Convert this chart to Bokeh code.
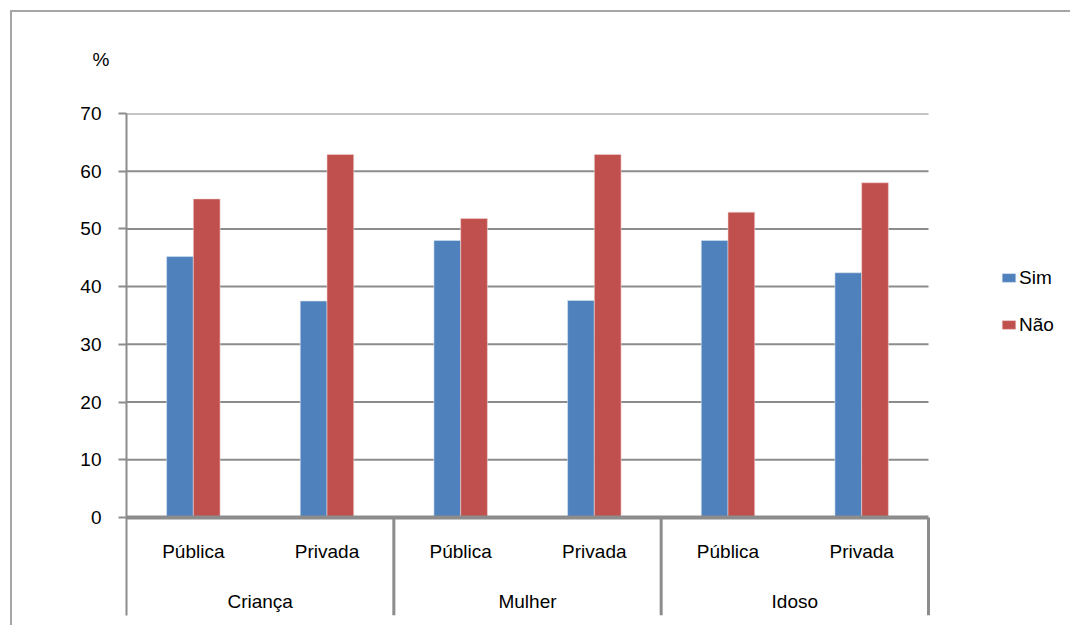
from bokeh.plotting import figure
from bokeh.models import (Range1d, FixedTicker, Legend, LegendItem,
                          Title, ColumnDataSource)
from bokeh.core.properties import value
from bokeh.embed import file_html
from bokeh.resources import INLINE

# ---- data ----
groups = ["Criança", "Mulher", "Idoso"]
sectors = ["Pública", "Privada"]
sim = [45.2, 37.5, 48.0, 37.6, 48.0, 42.4]
nao = [55.2, 62.9, 51.8, 62.9, 52.9, 58.0]
series_names = ["Sim", "Não"]
y_ticks = [0, 10, 20, 30, 40, 50, 60, 70]
y_unit = "%"

# ---- style ----
FONT = "Liberation Sans"
FS = "19px"
BLUE = "#4F81BD"
RED = "#C0504D"
GRID = "#8c8c8c"
FRAME_LINE = "#a6a6a6"

n_sec = len(sectors)
n_cat = len(groups) * n_sec
cat_labels = [s for g in groups for s in sectors]
cat_pos = [i + 0.5 for i in range(n_cat)]
grp_pos = [n_sec * (j + 0.5) for j in range(len(groups))]
bounds = [n_sec * (j + 1) for j in range(len(groups))]

bw = 0.2
src = ColumnDataSource(dict(
    x_sim=[c - bw / 2 for c in cat_pos],
    x_nao=[c + bw / 2 for c in cat_pos],
    sim=sim, nao=nao))

W, H = 1070, 625
LEFT, TOP, BOTTOM = 126, 113, 615   # pixels of plot area
CHART_RIGHT = 928                   # right edge of category area
frame_w = W - LEFT
x_end = n_cat * frame_w / (CHART_RIGHT - LEFT)

p = figure(
    width=W, height=H,
    x_range=Range1d(0, x_end),
    y_range=Range1d(-17, 70),
    output_backend="svg", toolbar_location=None,
    min_border_left=LEFT, min_border_right=0,
    min_border_top=TOP, min_border_bottom=H - BOTTOM,
    background_fill_color="white", border_fill_color=None,
    outline_line_color=None,
)
# outer chart-area border (left and top edges) drawn behind the transparent canvas
p.styles = {
    "background": (f"linear-gradient({FRAME_LINE},{FRAME_LINE}) 10px 10px / 2px 100% no-repeat, "
                   f"linear-gradient({FRAME_LINE},{FRAME_LINE}) 10px 10px / 100% 2px no-repeat, "
                   "white"),
}

p.xaxis.visible = False
p.xgrid.visible = False
p.ygrid.visible = False

ax = p.yaxis[0]
ax.ticker = FixedTicker(ticks=y_ticks)
ax.axis_line_color = GRID
ax.axis_line_width = 2
ax.major_tick_line_color = GRID
ax.major_tick_line_width = 2
ax.major_tick_out = 8
ax.major_tick_in = 0
ax.minor_tick_line_color = None
ax.major_label_text_font = FONT
ax.major_label_text_font_size = FS
ax.major_label_text_color = "black"
ax.major_label_standoff = 17

# horizontal gridlines across the category area
grid_t = [t for t in y_ticks if t != 0]
p.segment(x0=[0] * len(grid_t), x1=[n_cat] * len(grid_t), y0=grid_t, y1=grid_t,
          line_color=GRID, line_width=2)

# bars
r_sim = p.vbar(x="x_sim", top="sim", width=bw, source=src,
               fill_color=BLUE, line_color="#d7e2f0", line_width=0.6)
r_nao = p.vbar(x="x_nao", top="nao", width=bw, source=src,
               fill_color=RED, line_color="#f0d5d4", line_width=0.6)

# baseline (category axis)
p.segment(x0=[0], x1=[n_cat], y0=[0], y1=[0], line_color=GRID, line_width=4)

# group separators below axis
p.segment(x0=bounds, x1=bounds, y0=[0] * len(bounds),
          y1=[p.y_range.start] * len(bounds), line_color=GRID, line_width=3)

# category labels
p.text(x=cat_pos, y=[-5.9] * n_cat, text=cat_labels,
       text_align="center", text_baseline="middle",
       text_font=value(FONT), text_font_size=FS, text_color="black")
p.text(x=grp_pos, y=[-14.6] * len(groups), text=groups,
       text_align="center", text_baseline="middle",
       text_font=value(FONT), text_font_size=FS, text_color="black")

# unit label (above the frame)
p.add_layout(Title(text=y_unit, align="left", offset=-34, standoff=88,
                   text_font=FONT, text_font_size=FS, text_font_style="normal",
                   text_color="black"), "above")

legend = Legend(
    items=[LegendItem(label=series_names[0], renderers=[r_sim]),
           LegendItem(label=series_names[1], renderers=[r_nao])],
    location=(1000 - LEFT, BOTTOM - 336), orientation="vertical",
    glyph_width=17, glyph_height=11, label_height=23, spacing=24,
    padding=0, margin=0, label_standoff=2,
    border_line_color=None, background_fill_alpha=0,
    label_text_font=FONT, label_text_font_size=FS, label_text_color="black",
)
p.add_layout(legend)

open("out.html", "w").write(file_html(p, INLINE))
